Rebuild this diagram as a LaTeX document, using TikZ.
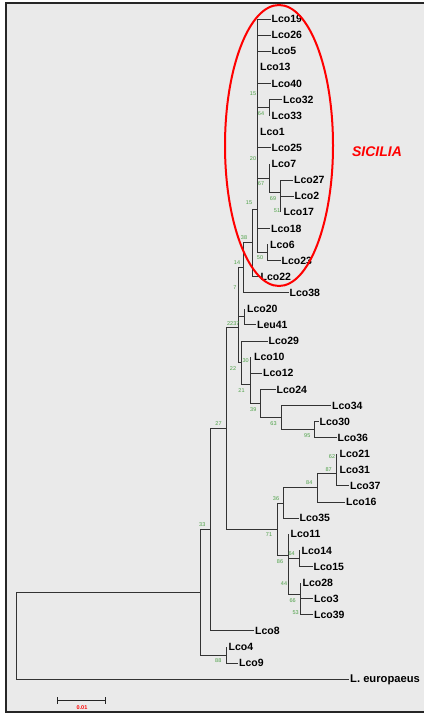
\documentclass[tikz,border=0pt]{standalone}
\usepackage{fontspec}
\setsansfont{Liberation Sans}
\usetikzlibrary{arrows.meta,calc}
\definecolor{panel}{RGB}{234,234,234}
\definecolor{bootgreen}{RGB}{76,160,70}

\begin{document}
\begin{tikzpicture}[x=1pt,y=-1pt,
		leaf/.style={anchor=west,inner sep=1pt,text height=7.4pt,text depth=0pt,font=\sffamily\bfseries\fontsize{10.5}{12}\selectfont},
		boot/.style={inner sep=0pt,text=bootgreen,font=\sffamily\fontsize{5.5}{6}\selectfont},
		branch/.style={draw=black!80,line width=0.9pt}]
		\useasboundingbox (0,0) rectangle (424,714);
		\path [fill=panel] (6,3) rectangle (424,712);
		\path [draw=black!85,line width=2pt] (424,3) -- (6,3) -- (6,712) -- (424,712);
		% leaves
		\node (lco19) at (270.5,19) [leaf] {Lco19};
		\node (lco26) at (270.5,35.1) [leaf] {Lco26};
		\node (lco5) at (270.5,51.2) [leaf] {Lco5};
		\node (lco13) at (259,67.3) [leaf] {Lco13};
		\node (lco40) at (270.5,83.4) [leaf] {Lco40};
		\node (lco32) at (282,99.5) [leaf] {Lco32};
		\node (lco33) at (270.5,115.6) [leaf] {Lco33};
		\node (lco1) at (259,131.7) [leaf] {Lco1};
		\node (lco25) at (270.5,147.8) [leaf] {Lco25};
		\node (lco7) at (270.5,163.9) [leaf] {Lco7};
		\node (lco27) at (293,180) [leaf] {Lco27};
		\node (lco2) at (293.5,196.1) [leaf] {Lco2};
		\node (lco17) at (282.5,212.2) [leaf] {Lco17};
		\node (lco18) at (270,228.3) [leaf] {Lco18};
		\node (lco6) at (269,244.4) [leaf] {Lco6};
		\node (lco23) at (280.5,260.5) [leaf] {Lco23};
		\node (lco22) at (259.5,276.6) [leaf] {Lco22};
		\node (lco38) at (288.5,292.7) [leaf] {Lco38};
		\node (lco20) at (246,308.8) [leaf] {Lco20};
		\node (leu41) at (256,324.9) [leaf] {Leu41};
		\node (lco29) at (267.5,341) [leaf] {Lco29};
		\node (lco10) at (253,357.1) [leaf] {Lco10};
		\node (lco12) at (262,373.2) [leaf] {Lco12};
		\node (lco24) at (275.5,389.3) [leaf] {Lco24};
		\node (lco34) at (331,405.4) [leaf] {Lco34};
		\node (lco30) at (318.5,421.5) [leaf] {Lco30};
		\node (lco36) at (336.5,437.6) [leaf] {Lco36};
		\node (lco21) at (338.5,453.7) [leaf] {Lco21};
		\node (lco31) at (338.5,469.8) [leaf] {Lco31};
		\node (lco37) at (349,485.9) [leaf] {Lco37};
		\node (lco16) at (345,502) [leaf] {Lco16};
		\node (lco35) at (298.5,518.1) [leaf] {Lco35};
		\node (lco11) at (289.5,534.2) [leaf] {Lco11};
		\node (lco14) at (300.5,550.3) [leaf] {Lco14};
		\node (lco15) at (312.5,566.4) [leaf] {Lco15};
		\node (lco28) at (301.5,582.5) [leaf] {Lco28};
		\node (lco3) at (313,598.6) [leaf] {Lco3};
		\node (lco39) at (313,614.7) [leaf] {Lco39};
		\node (lco8) at (254,630.8) [leaf] {Lco8};
		\node (lco4) at (227.5,646.9) [leaf] {Lco4};
		\node (lco9) at (238,663) [leaf] {Lco9};
		\node (leur) at (349,679.1) [leaf,font=\sffamily\bfseries\fontsize{11.2}{12}\selectfont] {L. europaeus};
		% inner nodes
		\coordinate (root) at (16,635.7);
		\coordinate (n33) at (200,592.3);
		\coordinate (n88) at (226,655);
		\coordinate (nA) at (210,529.6);
		\coordinate (n27) at (226,428.3);
		\coordinate (n2237) at (238,327.5);
		\coordinate (n7) at (238,292.3);
		\coordinate (n14) at (243,267.75);
		\coordinate (n38) at (252,242.8);
		\coordinate (n15) at (257,209);
		\coordinate (n64a) at (269,107.55);
		\coordinate (n67) at (269,178);
		\coordinate (n69) at (280,192.1);
		\coordinate (n51) at (280,204.15);
		\coordinate (n50) at (267,252.45);
		\coordinate (nleu) at (244,316.85);
		\coordinate (n22) at (241,362.6);
		\coordinate (n21) at (250,384.3);
		\coordinate (n30) at (250,365.15);
		\coordinate (n39) at (260,403.4);
		\coordinate (n63) at (281,417.5);
		\coordinate (n95) at (314,429.55);
		\coordinate (n71) at (277,529.2);
		\coordinate (n36) at (283,503);
		\coordinate (n84) at (317,487.9);
		\coordinate (n87) at (336,473.8);
		\coordinate (n62) at (336,461.75);
		\coordinate (n86) at (288,555.35);
		\coordinate (nY) at (288,576.5);
		\coordinate (n64b) at (299,558.35);
		\coordinate (n44) at (300,594.6);
		\coordinate (n66) at (300,606.65);
		% branches
		\path [branch] (root) |- (n33);
		\path [branch] (root) |- (leur.west);
		\path [branch] (n33) |- (nA);
		\path [branch] (n33) |- (n88);
		\path [branch] (n88) -- (n88 |- lco4.west);
		\path [branch] (n88) |- (lco9.west);
		\path [branch] (nA) |- (n27);
		\path [branch] (nA) |- (lco8.west);
		\path [branch] (n27) |- (n2237);
		\path [branch] (n27) |- (n71);
		\path [branch] (n2237) |- (n7);
		\path [branch] (n2237) |- (n22);
		\path [branch] (n7) |- (n14);
		\path [branch] (n7) |- (nleu);
		\path [branch] (n14) |- (n38);
		\path [branch] (n14) |- (lco38.west);
		\path [branch] (n38) |- (n15);
		\path [branch] (n38) |- (lco22.west);
		\path [branch] (n15) |- (lco19.west);
		\path [branch] (n15) |- (lco26.west);
		\path [branch] (n15) |- (lco5.west);
		\path [branch] (n15) |- (lco40.west);
		\path [branch] (n15) |- (n64a);
		\path [branch] (n15) |- (lco25.west);
		\path [branch] (n15) |- (n67);
		\path [branch] (n15) |- (lco18.west);
		\path [branch] (n15) |- (n50);
		\path [branch] (n64a) |- (lco32.west);
		\path [branch] (n64a) -- (n64a |- lco33.west);
		\path [branch] (n67) -- (n67 |- lco7.west);
		\path [branch] (n67) |- (n69);
		\path [branch] (n69) |- (lco27.west);
		\path [branch] (n69) |- (n51);
		\path [branch] (n51) |- (lco2.west);
		\path [branch] (n51) -- (n51 |- lco17.west);
		\path [branch] (n50) -- (n50 |- lco6.west);
		\path [branch] (n50) |- (lco23.west);
		\path [branch] (nleu) -- (nleu |- lco20.west);
		\path [branch] (nleu) |- (leu41.west);
		\path [branch] (n22) |- (lco29.west);
		\path [branch] (n22) |- (n21);
		\path [branch] (n21) |- (n30);
		\path [branch] (n21) |- (n39);
		\path [branch] (n30) -- (n30 |- lco10.west);
		\path [branch] (n30) |- (lco12.west);
		\path [branch] (n39) |- (lco24.west);
		\path [branch] (n39) |- (n63);
		\path [branch] (n63) |- (lco34.west);
		\path [branch] (n63) |- (n95);
		\path [branch] (n95) |- (lco30.west);
		\path [branch] (n95) |- (lco36.west);
		\path [branch] (n71) |- (n36);
		\path [branch] (n71) |- (n86);
		\path [branch] (n36) |- (n84);
		\path [branch] (n36) |- (lco35.west);
		\path [branch] (n84) |- (n87);
		\path [branch] (n84) |- (lco16.west);
		\path [branch] (n87) |- (n62);
		\path [branch] (n87) |- (lco37.west);
		\path [branch] (n62) -- (n62 |- lco21.west);
		\path [branch] (n62) -- (n62 |- lco31.west);
		\path [branch] (n86) -- (n86 |- lco11.west);
		\path [branch] (n86) |- (nY);
		\path [branch] (nY) |- (n64b);
		\path [branch] (nY) |- (n44);
		\path [branch] (n64b) -- (n64b |- lco14.west);
		\path [branch] (n64b) |- (lco15.west);
		\path [branch] (n44) -- (n44 |- lco28.west);
		\path [branch] (n44) |- (n66);
		\path [branch] (n66) |- (lco3.west);
		\path [branch] (n66) |- (lco39.west);
		% bootstrap values
		\node (b15a) at (253,94) [boot] {15};
		\node (b64a) at (261,114) [boot] {64};
		\node (b20) at (253,159) [boot] {20};
		\node (b67) at (261,184) [boot] {67};
		\node (b69) at (273,199) [boot] {69};
		\node (b51) at (277,211) [boot] {51};
		\node (b15b) at (249,203) [boot] {15};
		\node (b38) at (244,238) [boot] {38};
		\node (b50) at (260,258) [boot] {50};
		\node (b14) at (237,262.5) [boot] {14};
		\node (b7) at (235,288) [boot] {7};
		\node (b2237) at (233.3,323.3) [boot] {2237};
		\node (b30) at (245.7,361) [boot] {30};
		\node (b22) at (233,369) [boot] {22};
		\node (b21) at (241.5,391) [boot] {21};
		\node (b39) at (253.3,410) [boot] {39};
		\node (b63) at (273.5,424) [boot] {63};
		\node (b95) at (307.3,435.7) [boot] {95};
		\node (b62) at (332,456.7) [boot] {62};
		\node (b87) at (328.7,469.3) [boot] {87};
		\node (b84) at (309.3,482.7) [boot] {84};
		\node (b36) at (276,499) [boot] {36};
		\node (b71) at (269,535) [boot] {71};
		\node (b64b) at (291.7,554) [boot] {64};
		\node (b86) at (280,561.7) [boot] {86};
		\node (b44) at (284,583.3) [boot] {44};
		\node (b66) at (292.7,601) [boot] {66};
		\node (b53) at (295.7,612.7) [boot] {53};
		\node (b27) at (218.5,423.5) [boot] {27};
		\node (b33) at (202.3,525) [boot] {33};
		\node (b88) at (218.3,660.7) [boot] {88};
		% Sicilia group
		\path [draw=red,line width=2pt] (279,145.5) ellipse [x radius=54,y radius=140.5];
		\node (sicilia) at (377,152) [text=red,font=\sffamily\bfseries\itshape\fontsize{14}{16}\selectfont] {SICILIA};
		% scale bar
		\coordinate (sbl) at (57.3,700.7);
		\coordinate (sbr) at (106,700.7);
		\path [draw=black!85,line width=0.9pt,{Bar[width=6.5pt]}-{Bar[width=6.5pt]}] (sbl) -- (sbr);
		\node (sbtext) at (82,707.5) [inner sep=0pt,text=red,font=\sffamily\bfseries\fontsize{5.5}{6}\selectfont] {0.01};
	\end{tikzpicture}
\end{document}
